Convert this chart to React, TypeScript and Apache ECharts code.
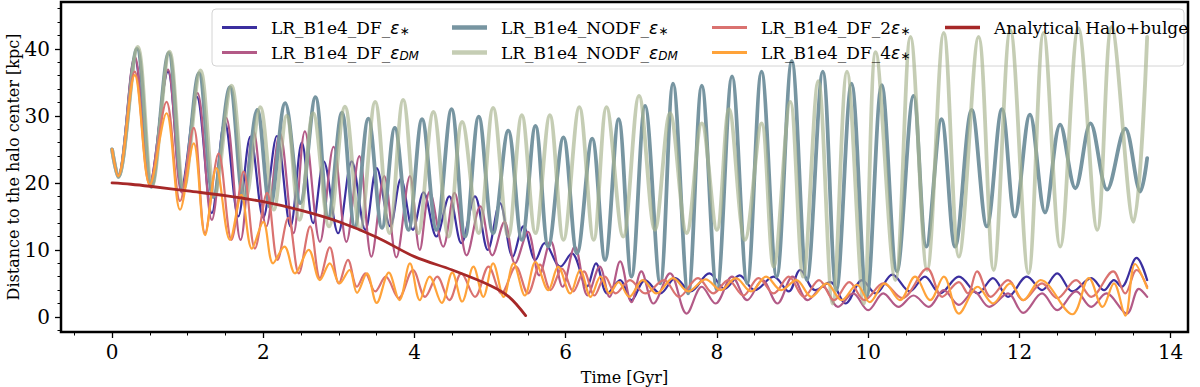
import React, { useEffect, useRef } from "react";
import * as echarts from "echarts";

// ---- Data (time [Gyr], distance [kpc]) ----
const dfStar: [number, number][] = [
  [0, 25], [0.08, 21.0], [0.3, 38.6], [0.5, 20.0], [0.74, 36.6], [0.92, 19.4], [1.12, 32.9], [1.32, 15.5],
  [1.49, 29.1], [1.67, 15.0], [1.83, 26.9], [2.0, 14.8], [2.18, 27.0], [2.36, 13.5], [2.51, 26.0], [2.66, 14.0],
  [2.8, 23.2], [2.99, 12.5], [3.17, 23.2], [3.35, 13.0], [3.5, 22.2], [3.68, 13.5], [3.82, 20.6], [3.98, 13.0],
  [4.12, 18.6], [4.29, 12.0], [4.46, 18.0], [4.62, 11.0], [4.8, 18.0], [4.97, 10.0], [5.13, 17.0], [5.3, 9.0],
  [5.44, 13.5], [5.6, 8.5], [5.72, 11.0], [5.93, 7.5], [6.08, 9.5], [6.28, 4.5], [6.4, 8.0], [6.55, 3.5],
  [6.72, 5.5], [6.87, 2.5], [7.05, 5.5], [7.25, 3.5], [7.45, 5.8], [7.65, 3.8], [7.9, 6.5], [8.1, 4.2],
  [8.3, 6.2], [8.5, 4.0], [8.75, 6.0], [8.95, 3.8], [9.1, 7.0], [9.3, 4.0], [9.5, 5.2], [9.7, 2.0],
  [9.92, 5.5], [10.1, 3.5], [10.32, 6.3], [10.55, 3.8], [10.75, 6.0], [10.95, 3.5], [11.2, 6.0], [11.45, 3.5],
  [11.65, 5.8], [11.85, 3.0], [12.1, 6.0], [12.3, 4.0], [12.5, 6.5], [12.7, 3.8], [12.95, 5.8], [13.12, 4.0],
  [13.25, 5.5], [13.35, 4.5], [13.55, 8.8], [13.69, 5.5],
];

const dfDM: [number, number][] = [
  [0, 25], [0.08, 21.0], [0.3, 38.9], [0.5, 20.0], [0.74, 36.9], [0.92, 18.6], [1.13, 33.4], [1.32, 14.5],
  [1.51, 29.7], [1.7, 11.5], [1.87, 27.8], [2.04, 13.5], [2.22, 27.4], [2.4, 12.5], [2.55, 27.7], [2.75, 11.2],
  [2.93, 25.4], [3.1, 11.2], [3.27, 24.0], [3.43, 9.0], [3.6, 21.0], [3.76, 8.9], [3.94, 21.0], [4.07, 10.0],
  [4.2, 18.7], [4.38, 10.5], [4.53, 18.5], [4.69, 9.2], [4.87, 16.5], [5.03, 9.2], [5.19, 14.2], [5.33, 8.0],
  [5.5, 12.7], [5.65, 6.2], [5.8, 11.3], [5.96, 4.5], [6.12, 10.5], [6.29, 3.2], [6.45, 7.5], [6.58, 3.0],
  [6.72, 8.3], [6.87, 2.2], [7.0, 6.8], [7.16, 2.0], [7.38, 6.5], [7.6, 0.5], [7.8, 4.5], [7.98, 2.0],
  [8.2, 6.0], [8.4, 2.5], [8.6, 5.5], [8.8, 2.0], [9.0, 6.0], [9.2, 2.5], [9.4, 4.5], [9.6, 1.5],
  [9.8, 3.5], [10.0, 1.0], [10.2, 3.5], [10.4, 1.5], [10.6, 3.2], [10.8, 1.5], [11.0, 4.0], [11.2, 1.8],
  [11.4, 3.8], [11.6, 1.5], [11.85, 3.5], [12.05, 0.6], [12.3, 3.5], [12.5, 1.0], [12.75, 3.8], [12.95, 1.5],
  [13.15, 3.5], [13.42, 0.5], [13.58, 4.2], [13.69, 3.0],
];

const nodfStar: [number, number][] = [
  [0, 25], [0.08, 20.9], [0.33, 40.0], [0.52, 19.4], [0.75, 39.4], [0.94, 19.0], [1.15, 36.4], [1.34, 17.9],
  [1.56, 34.3], [1.74, 17.5], [1.92, 30.9], [2.09, 16.4], [2.29, 31.9], [2.49, 17.0], [2.69, 32.8], [2.86, 14.8],
  [3.04, 30.5], [3.21, 13.4], [3.39, 29.6], [3.57, 13.3], [3.74, 28.2], [3.92, 13.0], [4.1, 29.5], [4.29, 13.0],
  [4.49, 31.0], [4.67, 12.0], [4.85, 29.9], [5.04, 12.5], [5.24, 27.8], [5.42, 11.5], [5.6, 28.5], [5.77, 10.5],
  [5.97, 26.8], [6.15, 9.5], [6.35, 26.6], [6.52, 8.5], [6.7, 29.5], [6.87, 6.0], [7.05, 31.5], [7.25, 5.0],
  [7.42, 34.8], [7.62, 3.5], [7.8, 34.5], [8.0, 4.0], [8.2, 35.9], [8.4, 5.0], [8.59, 36.6], [8.79, 6.0],
  [8.99, 38.2], [9.19, 5.5], [9.4, 36.6], [9.58, 4.0], [9.78, 34.8], [9.98, 3.0], [10.18, 34.6], [10.38, 6.8],
  [10.6, 33.0], [10.77, 10.5], [10.97, 29.5], [11.15, 10.5], [11.37, 30.9], [11.57, 13.5], [11.77, 31.0], [11.94, 15.0],
  [12.14, 30.2], [12.34, 15.6], [12.54, 28.7], [12.74, 19.2], [12.94, 28.9], [13.16, 19.0], [13.4, 28.1], [13.6, 18.7],
  [13.69, 23.7],
];

const nodfDM: [number, number][] = [
  [0, 25], [0.08, 20.9], [0.34, 40.3], [0.53, 19.6], [0.76, 39.6], [0.95, 19.2], [1.17, 36.8], [1.36, 18.2],
  [1.58, 34.5], [1.77, 17.8], [1.96, 31.3], [2.14, 16.0], [2.31, 30.0], [2.48, 14.5], [2.66, 30.4], [2.87, 13.5],
  [3.08, 31.4], [3.28, 13.0], [3.48, 32.1], [3.67, 12.5], [3.85, 32.4], [4.05, 12.5], [4.25, 30.6], [4.45, 12.0],
  [4.63, 29.1], [4.85, 12.5], [5.04, 31.2], [5.24, 12.0], [5.42, 30.1], [5.6, 12.5], [5.79, 30.1], [5.97, 11.5],
  [6.18, 31.3], [6.37, 11.5], [6.54, 31.3], [6.76, 12.0], [6.97, 33.0], [7.18, 13.0], [7.38, 30.4], [7.6, 12.5],
  [7.8, 28.9], [8.0, 13.0], [8.16, 31.0], [8.37, 11.5], [8.59, 28.9], [8.75, 7.5], [8.97, 32.1], [9.14, 6.0],
  [9.34, 35.2], [9.53, 2.0], [9.72, 36.6], [9.94, 2.0], [10.1, 39.5], [10.36, 5.5], [10.56, 41.8], [10.78, 7.0],
  [11.0, 42.4], [11.2, 9.0], [11.46, 41.8], [11.66, 7.0], [11.88, 42.8], [12.12, 6.5], [12.32, 42.4], [12.54, 10.5],
  [12.78, 43.1], [13.03, 13.0], [13.22, 43.3], [13.51, 14.2], [13.69, 41.8],
];

const df2Star: [number, number][] = [
  [0, 25], [0.08, 21.0], [0.3, 36.6], [0.5, 19.7], [0.72, 32.1], [0.9, 17.3], [1.08, 28.2], [1.23, 12.5],
  [1.41, 24.4], [1.58, 11.5], [1.74, 21.7], [1.89, 10.2], [2.05, 18.5], [2.19, 8.5], [2.33, 14.8], [2.47, 6.5],
  [2.62, 13.5], [2.75, 5.8], [2.88, 10.4], [3.0, 5.0], [3.12, 8.5], [3.24, 4.5], [3.35, 6.5], [3.48, 3.8],
  [3.62, 6.0], [3.79, 2.8], [3.98, 7.0], [4.14, 3.0], [4.3, 6.0], [4.46, 2.5], [4.62, 6.5], [4.8, 3.0],
  [4.98, 7.5], [5.15, 3.5], [5.34, 7.5], [5.5, 3.5], [5.66, 7.8], [5.8, 4.0], [5.95, 7.2], [6.1, 3.8],
  [6.24, 6.8], [6.38, 3.2], [6.52, 6.0], [6.66, 3.5], [6.85, 5.5], [7.05, 3.5], [7.3, 5.5], [7.5, 3.0],
  [7.75, 5.8], [7.95, 3.5], [8.15, 5.5], [8.35, 3.2], [8.55, 5.8], [8.75, 3.5], [8.95, 6.0], [9.15, 3.0],
  [9.35, 5.5], [9.55, 2.5], [9.75, 5.2], [9.95, 2.5], [10.2, 5.0], [10.45, 2.8], [10.78, 7.2], [10.98, 3.0],
  [11.2, 5.2], [11.32, 3.5], [11.44, 6.8], [11.62, 3.0], [11.85, 5.5], [12.05, 2.5], [12.3, 5.0], [12.5, 2.8],
  [12.75, 5.5], [12.95, 3.0], [13.24, 6.8], [13.4, 3.5], [13.55, 7.0], [13.69, 4.5],
];

const df4Star: [number, number][] = [
  [0, 25], [0.08, 21.0], [0.3, 36.1], [0.5, 19.7], [0.72, 30.4], [0.9, 16.0], [1.08, 25.9], [1.23, 12.2],
  [1.38, 22.2], [1.56, 11.5], [1.71, 18.2], [1.85, 10.2], [2.0, 14.2], [2.13, 8.0], [2.28, 10.5], [2.42, 6.5],
  [2.6, 10.0], [2.75, 5.5], [2.88, 8.0], [3.01, 5.0], [3.14, 7.0], [3.24, 3.6], [3.37, 6.5], [3.5, 2.1],
  [3.66, 6.6], [3.8, 2.5], [3.94, 8.0], [4.07, 2.5], [4.2, 6.0], [4.36, 2.1], [4.5, 6.6], [4.63, 2.3],
  [4.78, 7.5], [4.91, 3.0], [5.04, 8.0], [5.18, 3.0], [5.31, 8.0], [5.46, 3.2], [5.6, 8.2], [5.77, 4.0],
  [5.9, 7.5], [6.06, 3.5], [6.19, 7.0], [6.33, 3.0], [6.46, 6.0], [6.58, 3.5], [6.7, 5.2], [6.84, 3.0],
  [7.02, 5.5], [7.2, 3.5], [7.42, 5.8], [7.62, 3.8], [7.85, 5.6], [8.05, 4.0], [8.25, 5.8], [8.45, 3.8],
  [8.65, 6.0], [8.85, 4.0], [9.05, 5.5], [9.25, 3.0], [9.45, 5.0], [9.65, 2.5], [9.85, 4.8], [10.02, 2.2],
  [10.22, 5.0], [10.42, 2.5], [10.62, 6.0], [10.82, 2.5], [11.0, 6.0], [11.2, 0.5], [11.45, 4.5], [11.65, 2.0],
  [11.88, 5.0], [12.05, 2.5], [12.28, 5.5], [12.7, 0.4], [12.92, 5.8], [13.1, 1.5], [13.25, 5.0], [13.4, 0.2],
  [13.53, 7.9], [13.69, 4.3],
];

const analytical: [number, number][] = [
  [0, 20.0], [0.25, 19.8], [0.5, 19.5], [1.0, 18.8], [1.5, 18.1], [2.0, 17.2], [2.5, 15.9], [3.0, 14.2],
  [3.5, 11.9], [4.0, 9.0], [4.5, 7.0], [5.0, 4.7], [5.25, 3.0], [5.47, 0.2],
];

const seriesNames = [
  "LR_B1e4_DF_ε*",
  "LR_B1e4_DF_εDM",
  "LR_B1e4_NODF_ε*",
  "LR_B1e4_NODF_εDM",
  "LR_B1e4_DF_2ε*",
  "LR_B1e4_DF_4ε*",
  "Analytical Halo+bulge",
];

const xMajorTicks = [0, 2, 4, 6, 8, 10, 12, 14];
const xMinorTicks = [-0.5, 0.5, 1, 1.5, 2.5, 3, 3.5, 4.5, 5, 5.5, 6.5, 7, 7.5, 8.5, 9, 9.5, 10.5, 11, 11.5, 12.5, 13, 13.5];
const yMajorTicks = [0, 10, 20, 30, 40];
const yMinorTicks = [-2, 2, 4, 6, 8, 12, 14, 16, 18, 22, 24, 26, 28, 32, 34, 36, 38, 42, 44, 46];

const X_MIN = -0.675;
const X_MAX = 14.23;
const Y_MIN = -2.25;
const Y_MAX = 47.0;

const seriesData = [dfStar, dfDM, nodfStar, nodfDM, df2Star, df4Star, analytical];
const seriesColors = ["#3b2f9f", "#b35a87", "#7795a1", "rgba(170,182,145,0.68)", "#da7270", "#ffa33a", "#a62828"];
const seriesWidths = [2.2, 2.2, 3.8, 3.8, 2.2, 2.2, 2.8];

const SERIF = "DejaVu Serif";

function legendLabel(name: string): string {
  if (name.endsWith("εDM")) {
    return `{t|${name.slice(0, -3)}}{e|ε}{d|DM}`;
  }
  if (name.endsWith("ε*")) {
    return `{t|${name.slice(0, -2)}}{e|ε}{s|∗}`;
  }
  return `{t|${name}}`;
}

const rich = {
  t: { fontFamily: SERIF, fontSize: 17, color: "#000", lineHeight: 19 },
  e: { fontFamily: "DejaVu Sans", fontStyle: "italic", fontSize: 17, color: "#000", lineHeight: 19 },
  s: { fontFamily: "DejaVu Sans", fontSize: 12, color: "#000", lineHeight: 12, verticalAlign: "bottom" },
  d: { fontFamily: "DejaVu Sans", fontStyle: "italic", fontSize: 12, color: "#000", lineHeight: 12, verticalAlign: "bottom" },
};

function legendColumn(left: number, names: string[], h: number) {
  return {
    left,
    top: 14,
    orient: "vertical",
    data: names,
    icon: "rect",
    itemWidth: 35,
    itemHeight: h,
    itemGap: 7,
    formatter: legendLabel,
    selectedMode: false,
    textStyle: { rich, padding: [0, 0, 0, 9] },
    z: 5,
  };
}

const hiddenLine = { show: false, onZero: false };

export default function App() {
  const ref = useRef<HTMLDivElement>(null);

  useEffect(() => {
    if (!ref.current) return;
    const chart = echarts.init(ref.current, undefined, { renderer: "svg" });

    const tickStyle = { color: "#000", width: 1.3 };
    const option = {
      animation: false,
      backgroundColor: "#fff",
      grid: {
        left: 61,
        top: 2,
        width: 1127,
        height: 330,
        show: true,
        borderColor: "#000",
        borderWidth: 2.5,
        backgroundColor: "transparent",
        containLabel: false,
        outerBoundsMode: "none",
      },
      xAxis: [
        {
          type: "value",
          position: "bottom",
          min: X_MIN,
          max: X_MAX,
          axisLine: hiddenLine,
          splitLine: { show: false },
          axisTick: { show: true, length: 6, customValues: xMajorTicks, lineStyle: tickStyle },
          axisLabel: {
            customValues: xMajorTicks,
            fontFamily: SERIF,
            fontSize: 20,
            color: "#000",
            margin: 10,
          },
          name: "Time [Gyr]",
          nameLocation: "middle",
          nameGap: 37,
          nameMoveOverlap: false,
          nameTextStyle: { fontFamily: SERIF, fontSize: 16, color: "#000" },
        },
        {
          type: "value",
          position: "bottom",
          min: X_MIN,
          max: X_MAX,
          axisLine: hiddenLine,
          splitLine: { show: false },
          axisLabel: { show: false },
          axisTick: { show: true, length: 3.5, customValues: xMinorTicks, lineStyle: { color: "#000", width: 1 } },
        },
      ],
      yAxis: [
        {
          type: "value",
          position: "left",
          min: Y_MIN,
          max: Y_MAX,
          axisLine: hiddenLine,
          splitLine: { show: false },
          axisTick: { show: true, length: 6, customValues: yMajorTicks, lineStyle: tickStyle },
          axisLabel: {
            customValues: yMajorTicks,
            fontFamily: SERIF,
            fontSize: 20,
            color: "#000",
            margin: 11,
          },
          name: "Distance to the halo center [kpc]",
          nameLocation: "middle",
          nameGap: 40,
          nameRotate: 90,
          nameMoveOverlap: false,
          nameTextStyle: { fontFamily: SERIF, fontSize: 16, color: "#000" },
        },
        {
          type: "value",
          position: "left",
          min: Y_MIN,
          max: Y_MAX,
          axisLine: hiddenLine,
          splitLine: { show: false },
          axisLabel: { show: false },
          axisTick: { show: true, length: 3.5, customValues: yMinorTicks, lineStyle: { color: "#000", width: 1 } },
        },
      ],
      legend: [
        legendColumn(217, [seriesNames[0], seriesNames[1]], 3),
        legendColumn(447, [seriesNames[2], seriesNames[3]], 4.5),
        legendColumn(707, [seriesNames[4], seriesNames[5]], 3),
        legendColumn(940, [seriesNames[6]], 3.5),
      ],
      graphic: [
        {
          type: "rect",
          z: 3,
          shape: { x: 212, y: 9, width: 972, height: 57, r: 4 },
          style: { fill: "rgba(255,255,255,0.8)", stroke: "#d4d4d4", lineWidth: 1 },
          silent: true,
        },
      ],
      series: seriesNames.map((name, i) => ({
        type: "line",
        name,
        data: seriesData[i],
        xAxisIndex: 0,
        yAxisIndex: 0,
        showSymbol: false,
        symbol: "none",
        smooth: 0.35,
        color: seriesColors[i],
        itemStyle: { color: seriesColors[i] },
        lineStyle: { color: seriesColors[i], width: seriesWidths[i], join: "round", cap: "round" },
        emphasis: { disabled: true },
        silent: true,
      })),
    };

    chart.setOption(option as any);
    return () => chart.dispose();
  }, []);

  return (
    <div
      ref={ref}
      style={{ position: "fixed", left: 0, top: 0, width: 1200, height: 387, background: "#fff" }}
    />
  );
}
